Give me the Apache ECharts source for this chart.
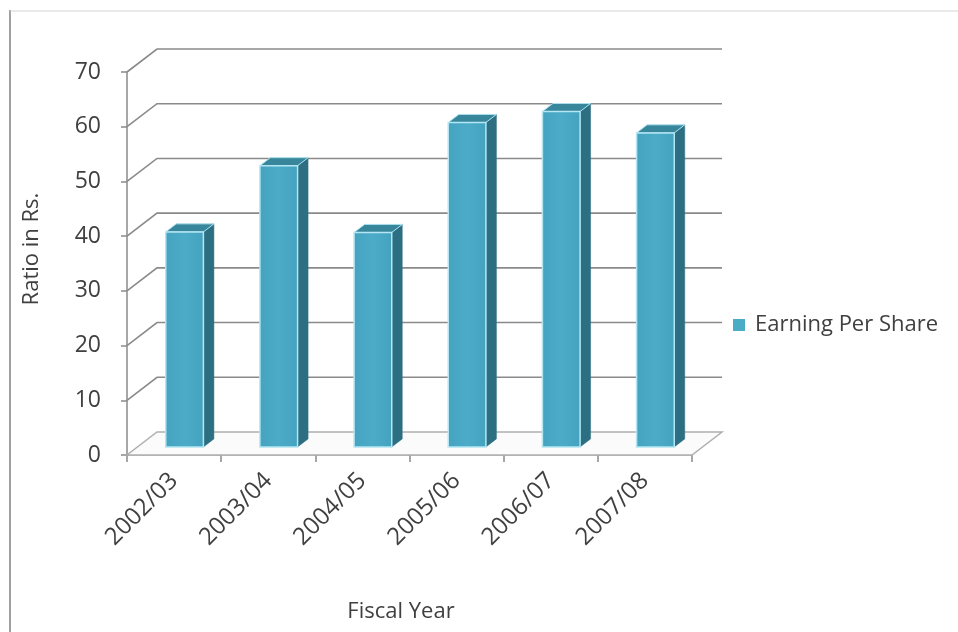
<!DOCTYPE html>
<html>
<head>
<meta charset="utf-8">
<script src="https://cdn.jsdelivr.net/npm/echarts@6/dist/echarts.min.js"></script>
<style>
  html, body { margin: 0; padding: 0; background: #ffffff; }
  #chart { width: 958px; height: 632px; }
</style>
</head>
<body>
<div id="chart"></div>
<script>
// Earning per share by fiscal year
const categories = ['2002/03', '2003/04', '2004/05', '2005/06', '2006/07', '2007/08'];
const earningPerShare = [39.3, 51.4, 39.2, 59.3, 61.3, 57.4];
const yTicks = [0, 10, 20, 30, 40, 50, 60, 70];
const seriesName = 'Earning Per Share';
const xAxisTitle = 'Fiscal Year';
const yAxisTitle = 'Ratio in Rs.';

// Oblique projection of the depth axis (pixels for the full floor depth)
const DEPTH_X = 30, DEPTH_Y = -23;
// Bars occupy this slice of the floor depth
const BAR_FRONT = 0.35, BAR_BACK = 0.70;
const BAR_WIDTH = 0.4;

const FONT = 'Open Sans';
const TEXT_COLOR = '#404040';
const GRID_COLOR = '#8a8a8a';

const chart = echarts.init(document.getElementById('chart'), null, { renderer: 'canvas' });

// Floor, side wall and back wall gridlines
function renderWalls(params, api) {
  const cs = params.coordSys;
  const v = api.value(0);
  const y = api.coord([0, v])[1];
  const children = [];
  if (v === 0) {
    children.push({
      type: 'polygon',
      shape: { points: [
        [cs.x, y], [cs.x + cs.width, y],
        [cs.x + cs.width + DEPTH_X, y + DEPTH_Y], [cs.x + DEPTH_X, y + DEPTH_Y]
      ] },
      style: { fill: '#fbfbfb', stroke: '#b0b0b0', lineWidth: 1.5 }
    });
  } else {
    children.push({
      type: 'polyline',
      shape: { points: [
        [cs.x, y], [cs.x + DEPTH_X, y + DEPTH_Y], [cs.x + cs.width + DEPTH_X, y + DEPTH_Y]
      ] },
      style: { stroke: GRID_COLOR, lineWidth: 1.6, fill: null }
    });
  }
  return { type: 'group', children: children };
}

// Oblique 3D column: front face, right side and top
function renderBar(params, api) {
  const i = api.value(0);
  const v = api.value(1);
  const base = api.coord([i, 0]);
  const top = api.coord([i, v]);
  const band = api.size([1, 0])[0];
  const w = band * BAR_WIDTH;
  const fx = DEPTH_X * BAR_FRONT, fy = DEPTH_Y * BAR_FRONT;
  const ddx = DEPTH_X * (BAR_BACK - BAR_FRONT), ddy = DEPTH_Y * (BAR_BACK - BAR_FRONT);
  const xl = base[0] - w / 2 + fx, xr = base[0] + w / 2 + fx;
  const yb = base[1] + fy, yt = top[1] + fy;
  return {
    type: 'group',
    children: [
      {
        type: 'polygon',
        shape: { points: [[xr, yb], [xr, yt], [xr + ddx, yt + ddy], [xr + ddx, yb + ddy]] },
        style: { fill: '#2c6f82', stroke: '#2c6f82', lineWidth: 0.5 }
      },
      {
        type: 'polygon',
        shape: { points: [[xl, yt], [xr, yt], [xr + ddx, yt + ddy], [xl + ddx, yt + ddy]] },
        style: { fill: '#37869b', stroke: '#a9dfee', lineWidth: 1 }
      },
      {
        type: 'rect',
        shape: { x: xl, y: yt, width: w, height: yb - yt },
        style: {
          fill: new echarts.graphic.LinearGradient(0, 0, 1, 0, [
            { offset: 0, color: '#45a3c0' },
            { offset: 0.5, color: '#4cacc8' },
            { offset: 1, color: '#44a2bf' }
          ]),
          stroke: '#b4e6f3', lineWidth: 1.5
        }
      }
    ]
  };
}

const option = {
  animation: false,
  backgroundColor: '#ffffff',
  textStyle: { fontFamily: FONT },
  grid: { left: 127, right: 266, top: 72, bottom: 177, containLabel: false },
  legend: {
    left: 733, top: 314, padding: 0,
    itemWidth: 12, itemHeight: 12, itemGap: 10,
    data: [{ name: seriesName, icon: 'rect' }],
    textStyle: { fontFamily: FONT, fontSize: 22, color: TEXT_COLOR, padding: [0, 0, 0, 5] }
  },
  xAxis: {
    type: 'category',
    data: categories,
    boundaryGap: true,
    axisLine: { show: true, lineStyle: { color: '#a8a8a8', width: 1.5 } },
    axisTick: { show: true, length: 7, lineStyle: { color: GRID_COLOR, width: 1.5 } },
    axisLabel: { rotate: 45, margin: 22, fontFamily: FONT, fontSize: 24, color: TEXT_COLOR },
    splitLine: { show: false }
  },
  yAxis: {
    type: 'value',
    min: yTicks[0], max: yTicks[yTicks.length - 1], interval: 10,
    axisLine: { show: true, lineStyle: { color: GRID_COLOR, width: 1.5 } },
    axisTick: { show: true, length: 6, lineStyle: { color: GRID_COLOR, width: 1.5 } },
    axisLabel: { margin: 26, fontFamily: FONT, fontSize: 23, color: TEXT_COLOR },
    splitLine: { show: false }
  },
  graphic: [
    { type: 'line', shape: { x1: 10, y1: 10, x2: 10, y2: 640 }, style: { stroke: '#a0a0a0', lineWidth: 2 } },
    { type: 'line', shape: { x1: 10, y1: 11, x2: 970, y2: 11 }, style: { stroke: '#d4d4d4', lineWidth: 1 } },
    {
      type: 'text', x: 32, y: 249, rotation: Math.PI / 2,
      style: { text: yAxisTitle, fontFamily: FONT, fontSize: 22, fill: TEXT_COLOR, textAlign: 'center', textVerticalAlign: 'middle' }
    },
    {
      type: 'text', x: 401, y: 612,
      style: { text: xAxisTitle, fontFamily: FONT, fontSize: 22, fill: TEXT_COLOR, textAlign: 'center', textVerticalAlign: 'middle' }
    }
  ],
  series: [
    {
      type: 'custom',
      name: 'walls',
      silent: true,
      renderItem: renderWalls,
      data: yTicks.map(function (t) { return [t]; }),
      encode: { y: 0 },
      z: 1
    },
    {
      type: 'custom',
      name: seriesName,
      renderItem: renderBar,
      itemStyle: { color: '#4bacc6' },
      data: earningPerShare.map(function (v, i) { return [i, v]; }),
      encode: { x: 0, y: 1 },
      z: 2
    }
  ]
};

chart.setOption(option);
</script>
</body>
</html>
